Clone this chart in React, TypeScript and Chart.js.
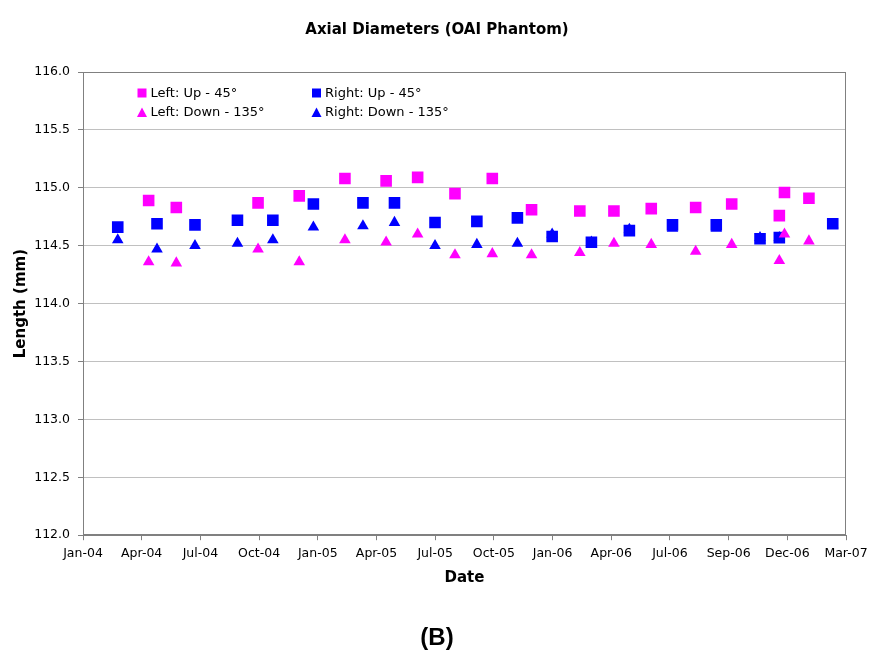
import React, { useEffect, useRef } from 'react';
import { Chart, registerables } from 'chart.js';

Chart.register(...registerables);

// ---- data ----
const TICK_LABELS = ['Jan-04', 'Apr-04', 'Jul-04', 'Oct-04', 'Jan-05', 'Apr-05', 'Jul-05', 'Oct-05', 'Jan-06', 'Apr-06', 'Jul-06', 'Sep-06', 'Dec-06', 'Mar-07'];
const TICK_STEP_DAYS = 91.2;
const ORIGIN = Date.UTC(2004, 0, 1);

const leftDates = ['2004-04-12', '2004-05-25', '2004-09-29', '2004-12-02', '2005-02-11', '2005-04-16', '2005-06-04', '2005-08-01', '2005-09-28', '2005-11-28', '2006-02-11', '2006-04-05', '2006-06-02', '2006-08-10', '2006-10-05', '2006-12-18', '2006-12-26', '2007-02-02'];
const leftUp = [114.89, 114.83, 114.87, 114.93, 115.08, 115.06, 115.09, 114.95, 115.08, 114.81, 114.80, 114.80, 114.82, 114.83, 114.86, 114.76, 114.96, 114.91];
const leftDown = [114.36, 114.35, 114.47, 114.36, 114.55, 114.53, 114.60, 114.42, 114.43, 114.42, 114.44, 114.52, 114.51, 114.45, 114.51, 114.37, 114.60, 114.54];

const rightDates = ['2004-02-24', '2004-04-25', '2004-06-23', '2004-08-28', '2004-10-22', '2004-12-24', '2005-03-11', '2005-04-29', '2005-07-01', '2005-09-04', '2005-11-06', '2005-12-30', '2006-03-01', '2006-04-29', '2006-07-05', '2006-09-11', '2006-11-18', '2006-12-18', '2007-03-11'];
const rightUp = [114.66, 114.69, 114.68, 114.72, 114.72, 114.86, 114.87, 114.87, 114.70, 114.71, 114.74, 114.58, 114.53, 114.63, 114.68, 114.68, 114.56, 114.57, 114.69];
const rightDown = [114.55, 114.47, 114.50, 114.52, 114.55, 114.66, 114.67, 114.70, 114.50, 114.51, 114.52, 114.60, 114.53, 114.64, 114.65, 114.65, 114.57, 114.57, 114.68];

const SERIES_LABELS = ['Left: Up - 45°', 'Left: Down - 135°', 'Right: Up - 45°', 'Right: Down - 135°'];
const MAGENTA = '#FF00FF';
const BLUE = '#0000FF';

const dayOf = (s: string) => {
  const [y, m, d] = s.split('-').map(Number);
  return (Date.UTC(y, m - 1, d) - ORIGIN) / 86400000;
};
const toPoints = (dates: string[], vals: number[]) => dates.map((d, i) => ({ x: dayOf(d), y: vals[i] }));

const FONT = 'DejaVu Sans, Verdana, sans-serif';

const plotBorder = {
  id: 'plotBorder',
  beforeDatasetsDraw(chart: any) {
    const { ctx, chartArea: a } = chart;
    ctx.save();
    ctx.strokeStyle = '#808080';
    ctx.lineWidth = 1;
    const l = Math.round(a.left) + 0.5;
    const t = Math.round(a.top) + 0.5;
    const r = Math.round(a.right) - 0.5;
    const b = Math.round(a.bottom) - 0.5;
    ctx.strokeRect(l, t, r - l, b - t);
    ctx.restore();
  },
};

const customLegend = {
  id: 'customLegend',
  afterDraw(chart: any) {
    const { ctx, chartArea: a } = chart;
    // grid layout: [LeftUp, RightUp] / [LeftDown, RightDown]
    const items = [
      { ds: 0, col: 0, row: 0 },
      { ds: 2, col: 1, row: 0 },
      { ds: 1, col: 0, row: 1 },
      { ds: 3, col: 1, row: 1 },
    ];
    const colX = [a.left + 59, a.left + 233.5];
    const rowY = [a.top + 21, a.top + 40.5];
    ctx.save();
    ctx.font = `13px ${FONT}`;
    ctx.textBaseline = 'middle';
    ctx.textAlign = 'left';
    for (const it of items) {
      const ds = chart.data.datasets[it.ds];
      const x = colX[it.col];
      const y = rowY[it.row];
      ctx.fillStyle = ds.backgroundColor;
      ctx.beginPath();
      if (ds.pointStyle === 'rect') {
        ctx.rect(x - 4.5, y - 4.5, 9, 9);
      } else {
        ctx.moveTo(x, y - 5);
        ctx.lineTo(x + 5, y + 4.5);
        ctx.lineTo(x - 5, y + 4.5);
        ctx.closePath();
      }
      ctx.fill();
      ctx.fillStyle = '#000';
      ctx.fillText(ds.label, x + 8.5, y + 0.5);
    }
    ctx.restore();
  },
};

export default function App() {
  const ref = useRef<HTMLCanvasElement | null>(null);

  useEffect(() => {
    if (!ref.current) return;
    const chart = new Chart(ref.current, {
      type: 'scatter',
      data: {
        datasets: [
          { label: SERIES_LABELS[0], data: toPoints(leftDates, leftUp), pointStyle: 'rect', pointRadius: 8.2, backgroundColor: MAGENTA, borderColor: MAGENTA, borderWidth: 0 },
          { label: SERIES_LABELS[1], data: toPoints(leftDates, leftDown), pointStyle: 'triangle', pointRadius: 6.7, backgroundColor: MAGENTA, borderColor: MAGENTA, borderWidth: 0 },
          { label: SERIES_LABELS[2], data: toPoints(rightDates, rightUp), pointStyle: 'rect', pointRadius: 8.2, backgroundColor: BLUE, borderColor: BLUE, borderWidth: 0 },
          { label: SERIES_LABELS[3], data: toPoints(rightDates, rightDown), pointStyle: 'triangle', pointRadius: 6.7, backgroundColor: BLUE, borderColor: BLUE, borderWidth: 0 },
        ] as any,
      },
      options: {
        responsive: false,
        animation: false,
        layout: { padding: { top: 10, left: 0, right: 8, bottom: 0 } },
        plugins: {
          legend: { display: false },
          tooltip: { enabled: false },
          title: {
            display: true,
            text: 'Axial Diameters (OAI Phantom)',
            color: '#000',
            font: { family: FONT, size: 15, weight: 'bold' },
            padding: { top: 11, bottom: 33 },
          },
          subtitle: {
            display: true,
            position: 'bottom',
            text: '(B)',
            color: '#000',
            font: { family: 'Liberation Sans, Arial, sans-serif', size: 24, weight: 'bold' },
            padding: { top: 19, bottom: 11 },
          },
        },
        scales: {
          x: {
            type: 'linear',
            min: 0,
            max: TICK_STEP_DAYS * (TICK_LABELS.length - 1),
            afterBuildTicks: (axis: any) => {
              axis.ticks = TICK_LABELS.map((_, i) => ({ value: i * TICK_STEP_DAYS }));
            },
            afterFit: (s: any) => { s.height = 70; },
            ticks: {
              autoSkip: false,
              maxRotation: 0,
              color: '#000',
              font: { family: FONT, size: 12.5 },
              padding: 6,
              callback: (_v: any, i: number) => TICK_LABELS[i],
            },
            grid: { drawOnChartArea: false, drawTicks: true, tickLength: 5, color: '#808080' },
            border: { color: '#808080' },
            title: {
              display: true,
              text: 'Date',
              color: '#000',
              font: { family: FONT, size: 15, weight: 'bold' },
              padding: { top: 4, bottom: 18 },
            },
          },
          y: {
            min: 112,
            max: 116,
            afterFit: (s: any) => { s.width = 83; },
            ticks: {
              stepSize: 0.5,
              color: '#000',
              font: { family: FONT, size: 12.5 },
              padding: 8,
              callback: (v: any) => Number(v).toFixed(1),
            },
            grid: { color: '#c0c0c0', tickLength: 5, tickColor: '#808080' },
            border: { color: '#808080' },
            title: {
              display: true,
              text: 'Length (mm)',
              color: '#000',
              font: { family: FONT, size: 15, weight: 'bold' },
              padding: { top: 12, bottom: 0 },
            },
          },
          yPad: {
            position: 'right',
            min: 112,
            max: 116,
            afterFit: (s: any) => { s.width = 28; },
            ticks: { display: false },
            grid: { display: false, drawTicks: false },
            border: { display: false },
          },
        },
      } as any,
      plugins: [plotBorder, customLegend],
    });
    return () => chart.destroy();
  }, []);

  return (
    <div style={{ position: 'fixed', left: 0, top: 0, width: 882, height: 664, background: '#fff' }}>
      <canvas ref={ref} width={882} height={664} />
    </div>
  );
}
